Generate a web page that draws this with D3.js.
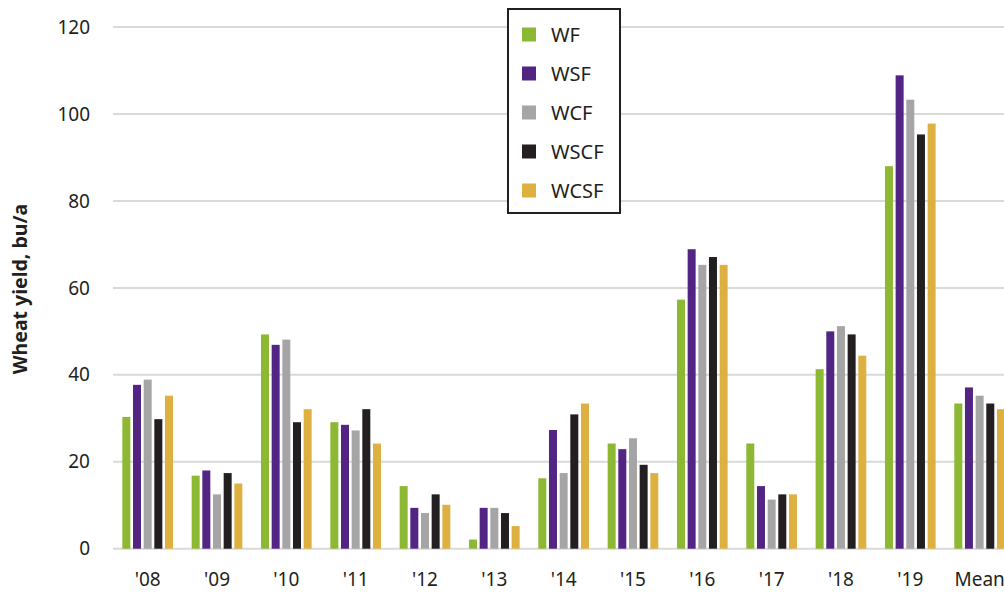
<!DOCTYPE html>
<html><head><meta charset="utf-8">
<script src="https://cdn.jsdelivr.net/npm/d3@7"></script>
<style>body{margin:0;background:#fff}svg{display:block}</style>
</head><body>
<svg id="c" width="1004" height="592"></svg>
<script>
const categories = ["'08","'09","'10","'11","'12","'13","'14","'15","'16","'17","'18","'19","Mean"];
const seriesNames = ["WF","WSF","WCF","WSCF","WCSF"];
const WF   = [30.3,16.8,49.3,29.1,14.4,2.1,16.2,24.2,57.3,24.2,41.3,88.0,33.4];
const WSF  = [37.7,18.0,46.9,28.5,9.4,9.4,27.3,22.9,68.9,14.4,50.0,108.9,37.1];
const WCF  = [38.9,12.5,48.1,27.2,8.2,9.4,17.4,25.4,65.3,11.3,51.2,103.3,35.2];
const WSCF = [29.8,17.4,29.1,32.1,12.5,8.2,30.9,19.3,67.1,12.5,49.3,95.3,33.4];
const WCSF = [35.2,15.0,32.1,24.2,10.1,5.2,33.4,17.4,65.3,12.5,44.4,97.8,32.1];
const yTicks = [0,20,40,60,80,100,120];
const colors = ["#8cb833","#522583","#a5a5a5","#231f20","#deb042"];

const seriesValues = [WF,WSF,WCF,WSCF,WCSF];
const svg = d3.select("#c");
const font = "'Noto Sans', 'Open Sans', sans-serif";
const textColor = "#231f20";

const x0 = d3.scaleBand().domain(categories).range([113, 113 + 69.33*13]).padding(0);
const x1 = d3.scaleBand().domain(seriesNames).range([0, x0.bandwidth()]).paddingInner(0.25).paddingOuter(0.875);
const y = d3.scaleLinear().domain([0,120]).range([548.7, 27.1]);

// gridlines
svg.append("g").selectAll("line").data(yTicks).join("line")
  .attr("x1", 113).attr("x2", 1004)
  .attr("y1", d => y(d)).attr("y2", d => y(d))
  .attr("stroke", "#d9d9d9").attr("stroke-width", 2);

// y tick labels
svg.append("g").selectAll("text").data(yTicks).join("text")
  .attr("x", 90).attr("y", d => y(d)).attr("dy", "0.35em")
  .attr("text-anchor", "end").attr("font-family", font).attr("font-size", 19)
  .attr("fill", textColor).text(d => d);

// bars
const groups = svg.append("g").selectAll("g").data(categories).join("g")
  .attr("transform", d => `translate(${x0(d)},0)`);
groups.selectAll("rect").data((d,i) => seriesNames.map((s,j) => ({s, j, v: seriesValues[j][i]})))
  .join("rect")
  .attr("x", d => x1(d.s)).attr("width", x1.bandwidth())
  .attr("y", d => y(d.v)).attr("height", d => y(0) - y(d.v))
  .attr("fill", d => colors[d.j]);

// x labels
svg.append("g").selectAll("text").data(categories).join("text")
  .attr("x", d => x0(d) + x0.bandwidth()/2).attr("y", 586)
  .attr("text-anchor", "middle").attr("font-family", font).attr("font-size", 19)
  .attr("fill", textColor).text(d => d);

// y title
svg.append("text")
  .attr("transform", "translate(27,289) rotate(-90)")
  .attr("text-anchor", "middle").attr("font-family", font).attr("font-size", 19.5)
  .attr("font-weight", "bold").attr("fill", textColor).text("Wheat yield, bu/a");

// legend
const lg = svg.append("g");
lg.append("rect").attr("x", 508).attr("y", 9).attr("width", 112).attr("height", 204)
  .attr("fill", "#fff").attr("stroke", textColor).attr("stroke-width", 2);
const items = lg.selectAll("g.it").data(seriesNames).join("g")
  .attr("transform", (d,i) => `translate(522,${34.5 + i*39})`);
items.append("rect").attr("x", 0).attr("y", -7).attr("width", 14).attr("height", 14)
  .attr("fill", (d,i) => colors[i]);
items.append("text").attr("x", 29).attr("y", 0).attr("dy", "0.36em")
  .attr("font-family", font).attr("font-size", 20).attr("fill", textColor).text(d => d);
</script>
</body></html>
